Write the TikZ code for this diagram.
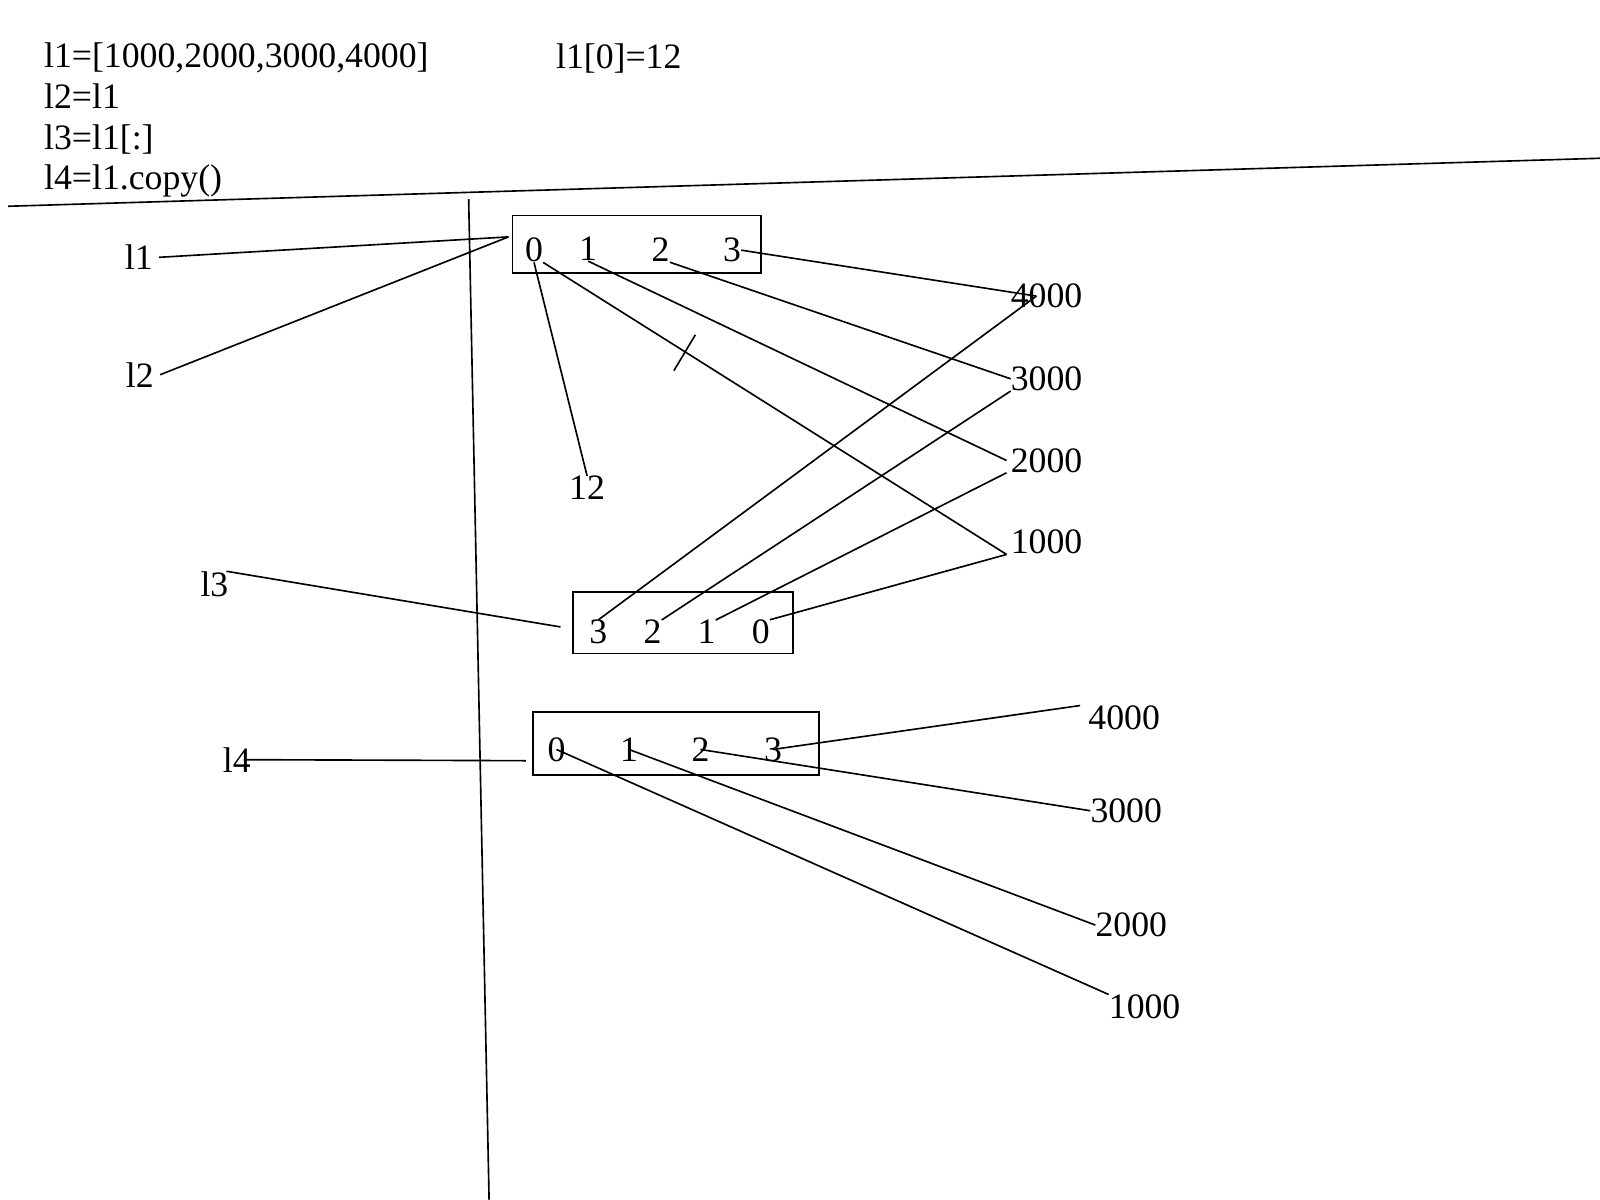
\documentclass[tikz,border=0pt]{standalone}
\usepackage{fontspec}
\setmainfont{Liberation Serif}
\tikzset{
    txt/.style={inner sep=0pt, font=\fontsize{35}{40}\selectfont},
    cell/.style={draw, line width=1.8pt, inner sep=0pt},
    link/.style={line width=1.6pt}
}

\begin{document}
\begin{tikzpicture}[x=1pt, y=-1pt]
    \useasboundingbox (0,0) rectangle (1567,1175);
    \node [txt, anchor=base west] (code1) at (43,66) {l1=[1000,2000,3000,4000]};
    \node [txt, anchor=base west] (code2) at (43,106) {l2=l1};
    \node [txt, anchor=base west] (code3) at (43,146) {l3=l1[:]};
    \node [txt, anchor=base west] (code4) at (43,186) {l4=l1.copy()};
    \node [txt] (assign) at (606,57) {l1[0]=12};
    \draw [link] (8,202) -- (1567,155);
    \draw [link] (459,195) -- (479,1175);

    \node [cell, minimum width=243, minimum height=56] (box1) at (623.5,239) {};
    \node [cell, minimum width=216, minimum height=60] (box2) at (669,610) {};
    \node [cell, minimum width=280, minimum height=62] (box3) at (662,728) {};

    \node [txt] (b1d0) at (523,245) {0};
    \node [txt] (b1d1) at (576,244) {1};
    \node [txt] (b1d2) at (647,245) {2};
    \node [txt] (b1d3) at (717,245) {3};
    \node [txt] (b2d3) at (586,619) {3};
    \node [txt] (b2d2) at (639,619) {2};
    \node [txt] (b2d1) at (692,619) {1};
    \node [txt] (b2d0) at (745,619) {0};
    \node [txt] (b3d0) at (545,734) {0};
    \node [txt] (b3d1) at (616,734) {1};
    \node [txt] (b3d2) at (686,734) {2};
    \node [txt] (b3d3) at (757,734) {3};

    \node [txt] (nl1) at (136,252) {l1};
    \node [txt] (nl2) at (137,367) {l2};
    \node [txt] (nl3) at (210,572) {l3};
    \node [txt] (nl4) at (232,744) {l4};
    \node [txt] (v12) at (575,478) {12};

    \node [txt] (g1v4000) at (1025,290) {4000};
    \node [txt] (g1v3000) at (1025,371) {3000};
    \node [txt] (g1v2000) at (1025,451) {2000};
    \node [txt] (g1v1000) at (1025,531) {1000};
    \node [txt] (g2v4000) at (1101,703) {4000};
    \node [txt] (g2v3000) at (1103,794) {3000};
    \node [txt] (g2v2000) at (1108,906) {2000};
    \node [txt] (g2v1000) at (1121,986) {1000};

    \coordinate (ref1) at (498,232);
    \coordinate (ref3) at (549,614);
    \coordinate (ref4) at (515,745);

    \draw [link] ([xshift=6]nl1.east) -- (ref1);
    \draw [link] ([xshift=6]nl2.east) -- (ref1);
    \draw [link] ([xshift=-2]nl3.north east) -- (ref3);
    \draw [link] ([xshift=-7]nl4.east) -- (ref4);
    \draw [link] (b1d0.south) -- (v12.north);
    \draw [link] (b1d0.south east) -- ([xshift=-4]g1v1000.south west);
    \draw [link] (b1d1.south) -- ([xshift=-4]g1v2000.west);
    \draw [link] (b1d2.south east) -- (g1v3000.west);
    \draw [link] (b1d3.east) -- ([xshift=-10]g1v4000.center);
    \draw [link] (660,363) -- (681,328);
    \draw [link] (b2d3.north) -- ([xshift=-10]g1v4000.center);
    \draw [link] (b2d2.north east) -- (g1v3000.south west);
    \draw [link] (b2d1.north east) -- ([xshift=-4]g1v2000.south west);
    \draw [link] (b2d0.north east) -- ([xshift=-4]g1v1000.south west);
    \draw [link] (b3d3.center) -- ([xshift=-8]g2v4000.north west);
    \draw [link] (b3d2.center) -- (g2v3000.west);
    \draw [link] (b3d1.center) -- (g2v2000.west);
    \draw [link] (b3d0.center) -- (g2v1000.north west);
\end{tikzpicture}
\end{document}
